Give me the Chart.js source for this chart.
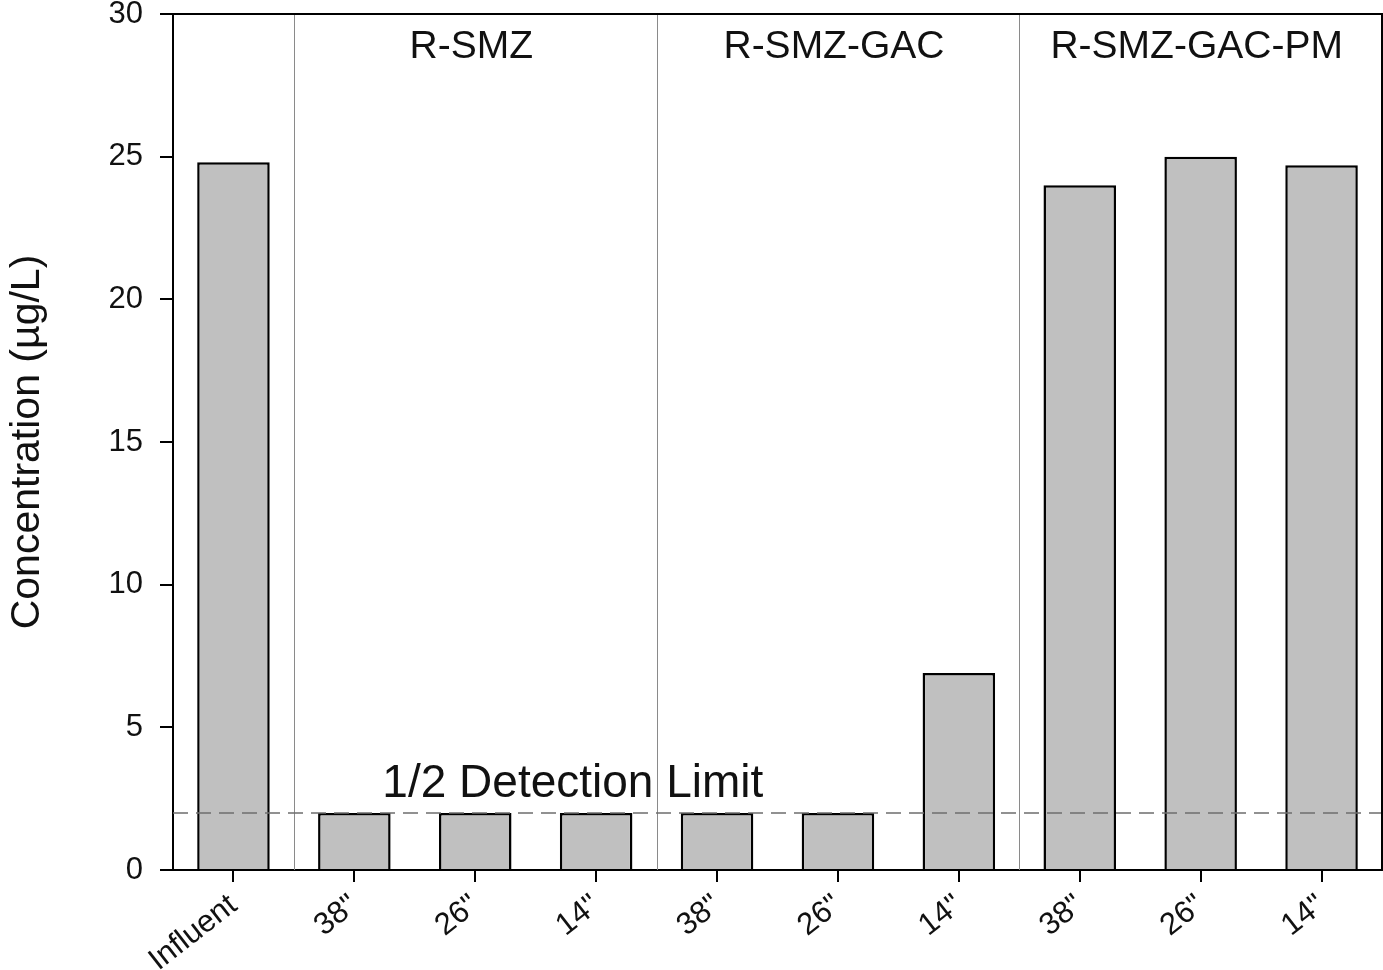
<!DOCTYPE html>
<html lang="en">
    <head>
        <meta charset="utf-8" />
        <script src="https://cdn.jsdelivr.net/npm/chart.js@4.4.1/dist/chart.umd.min.js"></script>
        <title>Concentration</title>
        <style>
            body { margin: 0; background: #fff; }
            #box { width: 1383px; height: 970px; }
        </style>
    </head>
    <body>
        <div id="box"><canvas id="bars"></canvas></div>
        <script>
            // categories and values
            var labels = ["Influent", '38"', '26"', '14"', '38"', '26"', '14"', '38"', '26"', '14"'];
            var concentration = [24.8, 2, 2, 2, 2, 2, 6.9, 24.0, 25.0, 24.7];
            var groups = ["R-SMZ", "R-SMZ-GAC", "R-SMZ-GAC-PM"];
            var groupStart = [1, 4, 7]; // first index of each group
            var halfLimit = 2;
            var yTicks = [0, 5, 10, 15, 20, 25, 30];

            var FONT = "'Liberation Sans', Arial, sans-serif";

            var extras = {
                id: "extras",
                beforeDatasetsDraw(chart) {
                    var c = chart.ctx, a = chart.chartArea, x = chart.scales.x;
                    c.save();
                    // group separators
                    c.strokeStyle = "#8a8a8a";
                    c.lineWidth = 1;
                    groupStart.forEach(function (i) {
                        var px = Math.round((x.getPixelForValue(i - 1) + x.getPixelForValue(i)) / 2) + 0.5;
                        c.beginPath();
                        c.moveTo(px, a.top);
                        c.lineTo(px, a.bottom);
                        c.stroke();
                    });
                    c.restore();
                },
                afterDatasetsDraw(chart) {
                    var c = chart.ctx, a = chart.chartArea, x = chart.scales.x, y = chart.scales.y;
                    c.save();
                    // half detection limit
                    var py = y.getPixelForValue(halfLimit);
                    c.strokeStyle = "#6e6e6e";
                    c.lineWidth = 1.5;
                    c.setLineDash([15, 8]);
                    c.beginPath();
                    c.moveTo(a.left, py);
                    c.lineTo(a.right, py);
                    c.stroke();
                    c.setLineDash([]);

                    c.fillStyle = "#111";
                    c.font = "46px " + FONT;
                    c.textAlign = "left";
                    c.textBaseline = "alphabetic";
                    c.fillText("1/2 Detection Limit", x.getPixelForValue(1) + 28, py - 16);

                    // group titles
                    c.font = "39px " + FONT;
                    c.textAlign = "center";
                    var edges = groupStart.map(function (i) {
                        return (x.getPixelForValue(i - 1) + x.getPixelForValue(i)) / 2;
                    });
                    edges.push(a.right);
                    groups.forEach(function (g, k) {
                        c.fillText(g, (edges[k] + edges[k + 1]) / 2 - 4, 58);
                    });

                    // frame top / right
                    c.strokeStyle = "#000";
                    c.lineWidth = 2;
                    c.beginPath();
                    c.moveTo(a.left - 13, a.top);
                    c.lineTo(a.right, a.top);
                    c.lineTo(a.right, a.bottom);
                    c.stroke();
                    c.restore();
                },
            };

            new Chart(document.getElementById("bars").getContext("2d"), {
                type: "bar",
                data: {
                    labels: labels,
                    datasets: [
                        {
                            data: concentration,
                            backgroundColor: "#c0c0c0",
                            borderColor: "#000",
                            borderWidth: 2.5,
                            borderSkipped: "bottom",
                            barPercentage: 0.6,
                            categoryPercentage: 1,
                        },
                    ],
                },
                options: {
                    responsive: true,
                    maintainAspectRatio: false,
                    animation: false,
                    layout: { padding: { top: 14, right: 1, left: 0, bottom: 0 } },
                    plugins: { legend: { display: false }, tooltip: { enabled: false } },
                    scales: {
                        x: {
                            offset: true,
                            afterFit: function (s) {
                                s.height = 100;
                                s.paddingLeft = 0;
                                s.paddingRight = 0;
                            },
                            border: { display: true, color: "#000", width: 2 },
                            grid: { offset: false, drawOnChartArea: false, drawTicks: true, tickLength: 12, color: "#000", lineWidth: 2 },
                            ticks: {
                                color: "#111",
                                font: { family: FONT, size: 31 },
                                minRotation: 38,
                                maxRotation: 38,
                                padding: 5,
                                autoSkip: false,
                            },
                        },
                        y: {
                            min: 0,
                            max: 30,
                            afterFit: function (s) {
                                s.width = 173;
                                s.paddingTop = 0;
                                s.paddingBottom = 0;
                            },
                            afterBuildTicks: function (s) {
                                s.ticks = yTicks.map(function (v) { return { value: v }; });
                            },
                            border: { display: true, color: "#000", width: 2 },
                            grid: { drawOnChartArea: false, drawTicks: true, tickLength: 13, color: "#000", lineWidth: 2 },
                            ticks: {
                                color: "#111",
                                font: { family: FONT, size: 31 },
                                padding: 17,
                            },
                            title: {
                                display: true,
                                text: "Concentration (\u00b5g/L)",
                                color: "#111",
                                font: { family: FONT, size: 41 },
                                padding: { top: 3, bottom: 0 },
                            },
                        },
                    },
                },
                plugins: [extras],
            });
        </script>
    </body>
</html>
